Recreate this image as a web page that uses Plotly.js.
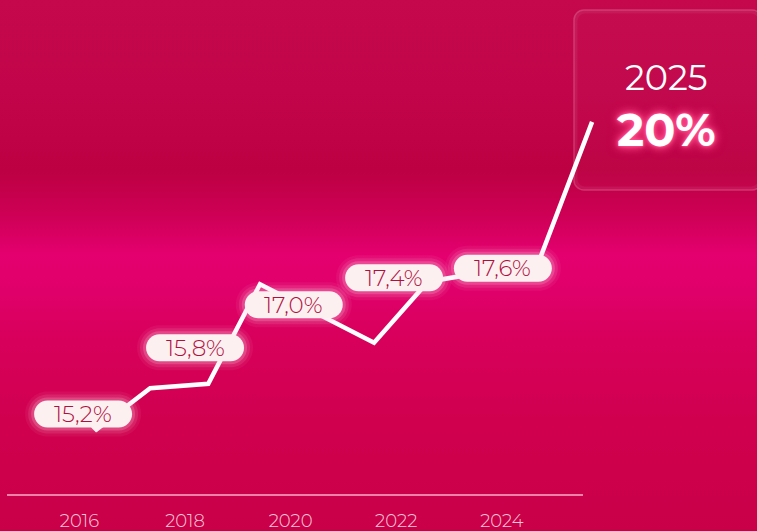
<!DOCTYPE html>
<html>
<head>
<meta charset="utf-8">
<script src="https://cdn.plot.ly/plotly-3.0.1.min.js"></script>
<style>
  html, body { margin: 0; padding: 0; }
  #chart {
    width: 757px; height: 531px;
    background: linear-gradient(180deg, #c4084b 0%, #c2054a 17%, #bc0042 32%, #cf0057 41%, #e4006f 48%, #e0006a 55%, #d8005c 63%, #d0004e 80%, #c90048 100%);
  }
</style>
</head>
<body>
<div id="chart"></div>
<script>
// ---- data ----
const tickYears   = [2016, 2018, 2020, 2022, 2024];
const tickLabels  = ['2016', '2018', '2020', '2022', '2024'];

// decorative trend line (year position, value)
const lineYears  = [2016.31, 2017.34, 2018.44, 2019.42, 2021.58, 2022.60, 2024.69, 2025.71];
const lineValues = [15.20, 15.85, 15.92, 17.47, 16.56, 17.51, 17.80, 20.00];

// value call-outs
const labelYears  = [2016.07, 2018.19, 2020.06, 2021.96, 2024.02];
const labelLevels = [15.45, 16.48, 17.15, 17.57, 17.72];
const labelTexts  = ['15,2%', '15,8%', '17,0%', '17,4%', '17,6%'];

const highlightYear  = '2025';
const highlightValue = '20%';

// ---- helpers ----
const FONT = 'Montserrat, "Open Sans", Lato, sans-serif';

function pillPath(hw, hh, pointer) {
  const r = hh, k = 0.5523 * r;
  const a = hw - r;
  let p = `M ${-a},${hh} L ${a},${hh} ` +
          `C ${a + k},${hh} ${hw},${k} ${hw},0 ` +
          `C ${hw},${-k} ${a + k},${-hh} ${a},${-hh} `;
  if (pointer) {
    p += `L 18,${-hh} L 13,${-hh - 5} L 8,${-hh} `;
  }
  p += `L ${-a},${-hh} ` +
       `C ${-a - k},${-hh} ${-hw},${-k} ${-hw},0 ` +
       `C ${-hw},${k} ${-a - k},${hh} ${-a},${hh} Z`;
  return p;
}

function roundRect(hw, hh, r) {
  const k = 0.5523 * r;
  return `M ${-hw + r},${hh} L ${hw - r},${hh} C ${hw - r + k},${hh} ${hw},${hh - r + k} ${hw},${hh - r} ` +
         `L ${hw},${-hh + r} C ${hw},${-hh + r - k} ${hw - r + k},${-hh} ${hw - r},${-hh} ` +
         `L ${-hw + r},${-hh} C ${-hw + r - k},${-hh} ${-hw},${-hh + r - k} ${-hw},${-hh + r} ` +
         `L ${-hw},${hh - r} C ${-hw},${hh - r + k} ${-hw + r - k},${hh} ${-hw + r},${hh} Z`;
}

const shapes = [];
const annotations = [];

// highlight box (top right) with soft inner edge
[[0, 0.20, 1.5], [2, 0.06, 3]].forEach(([inset, la, lw]) => {
  shapes.push({
    type: 'path', xref: 'paper', yref: 'paper',
    xsizemode: 'pixel', ysizemode: 'pixel',
    xanchor: 0.8824, yanchor: 0.798,
    path: roundRect(94 - inset, 90 - inset, 10 - inset / 2),
    fillcolor: inset === 0 ? 'rgba(255,255,255,0.02)' : 'rgba(0,0,0,0)',
    line: { color: `rgba(255,255,255,${la})`, width: lw },
    layer: 'below'
  });
});

// baseline
shapes.push({
  type: 'line', xref: 'paper', yref: 'paper',
  x0: 7 / 757, x1: 583 / 757, y0: 0, y1: 0,
  line: { color: 'rgba(255,200,220,0.65)', width: 2 },
  layer: 'above'
});

labelTexts.forEach((t, i) => {
  const ptr = i === 0;
  const glow = [[9, 0.06], [6, 0.11], [3, 0.2]];
  glow.forEach(([g, a]) => {
    shapes.push({
      type: 'path', xref: 'x', yref: 'y',
      xsizemode: 'pixel', ysizemode: 'pixel',
      xanchor: labelYears[i], yanchor: labelLevels[i],
      path: pillPath(49 + g, 13.5 + g, false),
      fillcolor: `rgba(255,215,230,${a})`,
      line: { width: 0 },
      layer: 'above'
    });
  });
  shapes.push({
    type: 'path', xref: 'x', yref: 'y',
    xsizemode: 'pixel', ysizemode: 'pixel',
    xanchor: labelYears[i], yanchor: labelLevels[i],
    path: pillPath(49, 13.5, ptr),
    fillcolor: '#fdf0f1',
    line: { width: 0 },
    layer: 'above'
  });
  annotations.push({
    x: labelYears[i], y: labelLevels[i], xref: 'x', yref: 'y',
    text: t, showarrow: false,
    font: { family: FONT, size: 23, color: '#b0103e', weight: 300 },
    xanchor: 'center', yanchor: 'middle'
  });
});

annotations.push({
  xref: 'paper', yref: 'paper', x: 666 / 757, y: 1 - 77 / 495,
  text: highlightYear, showarrow: false,
  font: { family: FONT, size: 35, color: '#ffffff' },
  xanchor: 'center', yanchor: 'middle'
});
annotations.push({
  xref: 'paper', yref: 'paper', x: 666 / 757, y: 1 - 129 / 495,
  text: '<b>' + highlightValue + '</b>', showarrow: false,
  font: { family: FONT, size: 46, color: '#ffffff', weight: 700,
          shadow: '0 0 4px #ff4d8d, 0 0 8px #ff4d8d, 0 0 12px #ff3d80, 0 0 2px #ff8ab4' },
  xanchor: 'center', yanchor: 'middle'
});

const trace = {
  x: lineYears, y: lineValues,
  type: 'scatter', mode: 'lines',
  line: { color: '#ffffff', width: 4.5 },
  hoverinfo: 'skip'
};

const layout = {
  width: 757, height: 531,
  margin: { l: 0, r: 0, t: 0, b: 36, pad: 0 },
  paper_bgcolor: 'rgba(0,0,0,0)',
  plot_bgcolor: 'rgba(0,0,0,0)',
  showlegend: false,
  xaxis: {
    range: [2014.496, 2028.833],
    tickvals: tickYears, ticktext: tickLabels,
    showgrid: false, zeroline: false, showline: false,
    ticks: '', ticklabelstandoff: 13,
    tickfont: { family: FONT, size: 18, color: 'rgba(255,225,235,0.9)', weight: 300 },
    fixedrange: true
  },
  yaxis: {
    range: [14.1875, 21.898],
    showgrid: false, zeroline: false, showline: false,
    showticklabels: false, ticks: '',
    fixedrange: true
  },
  shapes: shapes,
  annotations: annotations
};

Plotly.newPlot('chart', [trace], layout, { staticPlot: true, displayModeBar: false });
</script>
</body>
</html>
